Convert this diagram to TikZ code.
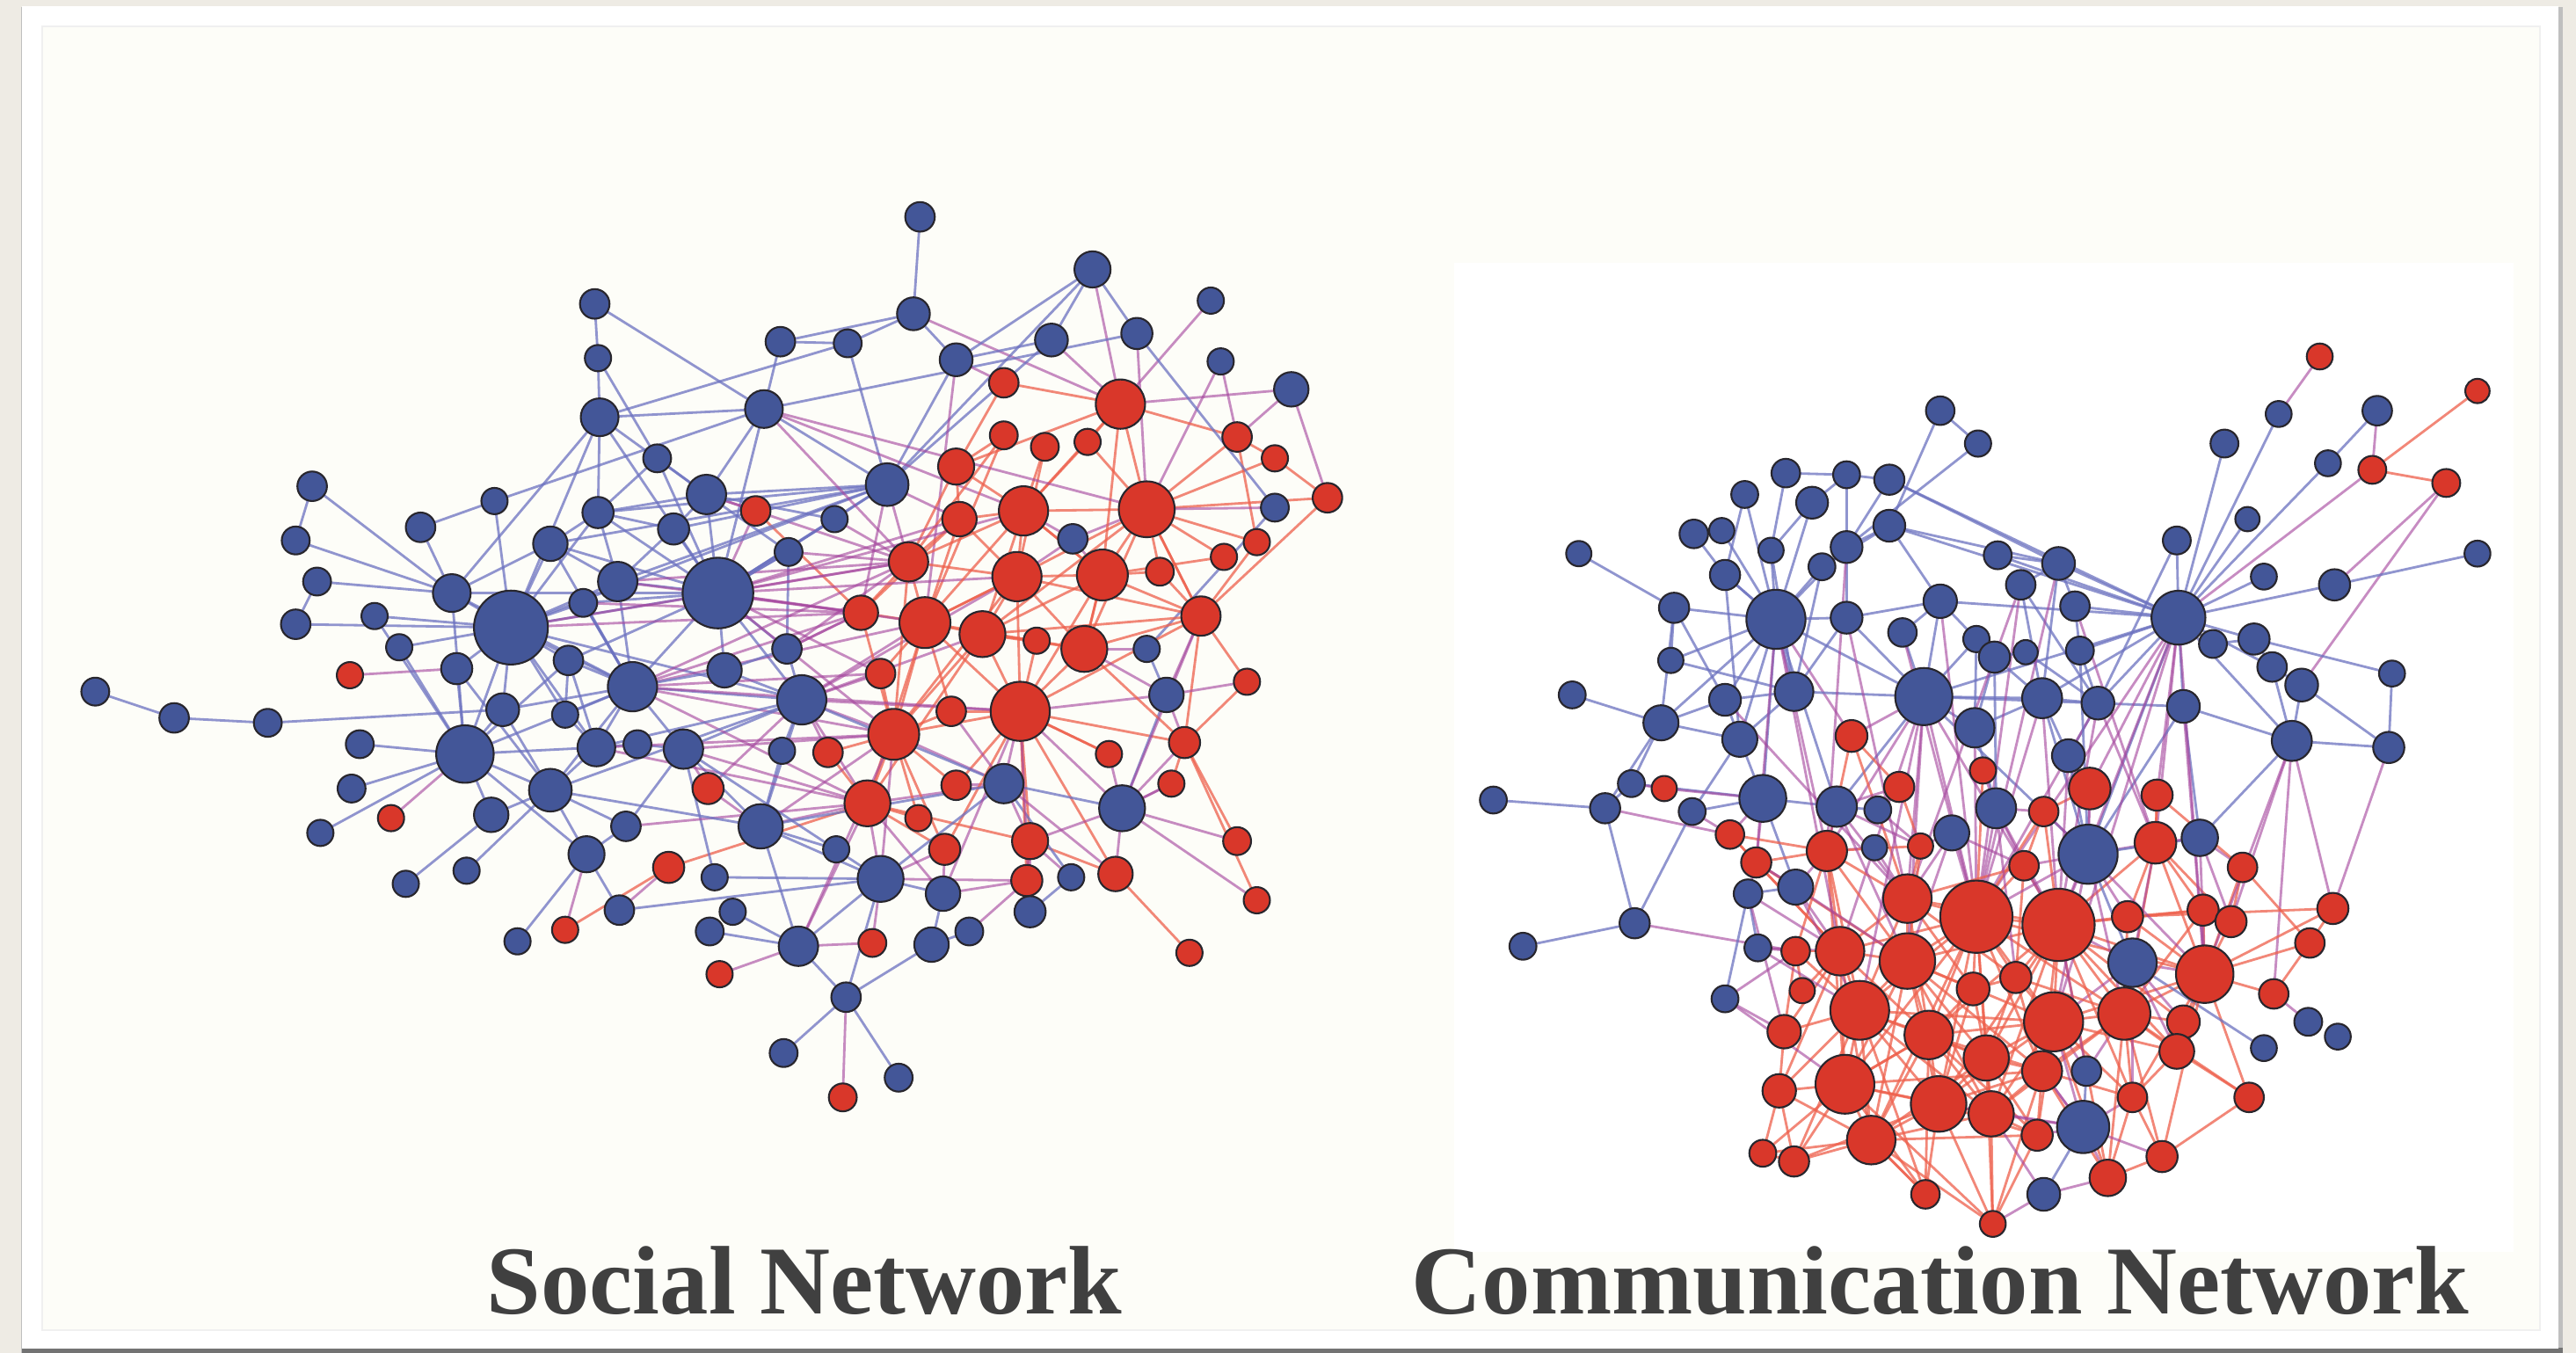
\documentclass[tikz,border=0pt]{standalone}
\usepackage{fontspec}
\newfontfamily\capfont{Liberation Serif}
\pgfdeclarelayer{bgl}
\pgfdeclarelayer{edges}
\pgfsetlayers{bgl,edges,main}
\definecolor{fillb}{RGB}{67,86,152}
\definecolor{fillr}{RGB}{217,55,42}
\definecolor{ndline}{RGB}{40,38,45}
\definecolor{eblue}{RGB}{108,114,192}
\definecolor{ered}{RGB}{238,96,76}
\definecolor{epurp}{RGB}{165,70,158}
\definecolor{paper}{RGB}{253,253,248}
\definecolor{outer}{RGB}{238,235,228}
\definecolor{txtgray}{RGB}{64,64,64}
\tikzset{
  nodebase/.style={circle, draw=ndline, line width=0.6pt, inner sep=0pt, outer sep=0pt},
  ebb/.style={draw=eblue, line width=0.8pt, draw opacity=0.75},
  err/.style={draw=ered, line width=0.8pt, draw opacity=0.75},
  ebr/.style={draw=epurp, line width=0.8pt, draw opacity=0.62},
  erb/.style={ebr},
  captext/.style={font=\capfont\bfseries\fontsize{31.5}{36}\selectfont, text=txtgray, anchor=base west, inner sep=0pt}
}
\newcommand\nd[5]{%
  \edef\tmpc{#5}\def\tmpb{b}%
  \ifx\tmpc\tmpb\def\fc{fillb}\else\def\fc{fillr}\fi
  \node[nodebase, fill=\fc, minimum size=#4*0.37372mm] (#1) at (#2,#3) {};%
  \expandafter\xdef\csname nc#1\endcsname{#5}}
\newcommand\ed[2]{%
  \edef\tmpe{\noexpand\draw[e\csname nc#1\endcsname\csname nc#2\endcsname] (#1) -- (#2);}%
  \tmpe}
\begin{document}
\begin{tikzpicture}[x=0.18686mm, y=-0.18686mm]
\useasboundingbox (0,0) rectangle (1568,823.6);
\begin{pgfonlayer}{bgl}
  \fill[outer] (0,0) rectangle (1568,823.6);
  \fill[black!25] (12.6,4.2) rectangle (1560,823.6);
  \fill[black!55] (13.4,820.6) rectangle (1560,823.6);
  \fill[white] (13.4,3.7) rectangle (1557.3,821);
  \filldraw[fill=paper, draw=black!6, line width=0.4pt] (25.7,16) rectangle (1546,809.7);
  \fill[white] (885,160) rectangle (1530,762);
\end{pgfonlayer}
% ---------------- left network nodes
\foreach \n/\x/\y/\r/\c in {
L1/560/132/9/b, L2/362/185/9/b, L3/364/218/8/b, L4/365/254/11.5/b, L5/475/208/9/b,
L6/516/209/8.5/b, L7/556/191/10/b, L8/665/164/11/b, L9/640/207/10/b, L10/692/203/9.5/b,
L11/737/183/8/b, L12/743/220/8/b, L13/582/219/10/b, L14/465/249/11.5/b, L15/611/233/9/r,
L16/682/246/15/r, L17/786/237/10.5/b, L18/753/266/9/r, L19/611/265/8.5/r, L20/636/272/8.5/r,
L21/662/269/8/r, L22/776/279/8/r, L23/582/284/11/r, L24/540/295/13/b, L25/400/279/8.5/b,
L26/430/301/12/b, L27/460/311/9/r, L28/508/316/8/b, L29/698/310/17/r, L30/623/311/15/r,
L31/584/316/10.5/r, L32/776/309/8.5/b, L33/808/303/9/r, L34/653/328/9/b, L35/765/330/8/r,
L36/745/339/8/r, L37/480/336/8.5/b, L38/553/342/12/r, L39/619/351/15/r, L40/671/350/15.5/r,
L41/706/348/8.5/r, L42/524/373/10.5/r, L43/563/379/15.5/r, L44/598/386/14/r, L45/631/390/8/r,
L46/660/395/14/r, L47/731/375/12/r, L48/698/395/8/b, L49/479/395/9/b, L50/441/408/10.5/b,
L51/190/296/9/b, L52/301/305/8/b, L53/364/312/9.5/b, L54/410/322/9.5/b, L55/256/321/9/b,
L56/335/331/10.5/b, L57/180/329/8.5/b, L58/193/354/8.5/b, L59/376/354/12/b, L60/437/361/21.5/b,
L61/275/361/11.5/b, L62/355/367/8.5/b, L63/228/375/8/b, L64/180/380/9/b, L65/311/382/22.5/b,
L66/243/394/8/b, L67/346/402/9/b, L68/278/407/9.5/b, L69/213/411/8/r, L70/385/418/15/b,
L71/58/421/8.5/b, L72/106/437/9/b, L73/163/440/8.5/b, L74/306/432/10/b, L75/344/435/8/b,
L76/219/453/8.5/b, L77/283/459/17.5/b, L78/363/455/11.5/b, L79/388/453/8.5/b, L80/416/456/12/b,
L81/214/480/8.5/b, L82/335/481/13/b, L83/431/480/9.5/r, L84/238/498/8/r, L85/299/496/10.5/b,
L86/381/503/9/b, L87/195/507/8/b, L88/357/520/11/b, L89/407/528/9.5/r, L90/435/534/8/b,
L91/284/530/8/b, L92/247/538/8/b, L93/377/554/9/b, L94/446/555/8/b, L95/344/566/8/r,
L96/315/573/8/b, L97/432/567/8.5/b, L98/438/593/8/r, L99/536/410/9/r, L100/759/415/8/r,
L101/488/426/15/b, L102/621/433/18/r, L103/579/433/9/r, L104/710/423/10.5/b, L105/544/447/15.5/r,
L106/476/457/8/b, L107/504/458/9/r, L108/675/459/8/r, L109/721/452/9.5/r, L110/611/477/12/b,
L111/582/478/9/r, L112/713/477/8/r, L113/528/489/14/r, L114/683/492/14/b, L115/463/503/13.5/b,
L116/559/498/8/r, L117/575/517/9.5/r, L118/627/512/11/r, L119/509/517/8/b, L120/753/512/8.5/r,
L121/536/535/14/b, L122/574/544/10.5/b, L123/625/536/9.5/r, L124/652/534/8/b, L125/679/532/10.5/r,
L126/765/548/8/r, L127/627/555/9.5/b, L128/531/574/8.5/r, L129/486/576/12/b, L130/567/575/10.5/b,
L131/590/567/8.5/b, L132/724/580/8/r, L133/515/607/9/b, L134/477/641/8.5/b, L135/547/656/8.5/b,
L136/513/668/8.5/r}
{\nd{\n}{\x}{\y}{\r}{\c}}
% ---------------- right network nodes
\foreach \n/\x/\y/\r/\c in {
R1/1181/250/8.7/b, R2/1204/270/8/b, R3/1087/288/8.7/b, R4/1124/289/8.2/b, R5/1150/292/9.2/b,
R6/1062/301/8.2/b, R7/1103/306/9.7/b, R8/1031/325/8.7/b, R9/1048/323/7.7/b, R10/1150/320/9.7/b,
R11/1078/335/7.7/b, R12/1124/333/9.7/b, R13/1109/345/8.2/b, R14/961/337/7.7/b, R15/1050/350/9.2/b,
R16/1019/370/9.2/b, R17/1081/377/18/b, R18/1124/376/9.7/b, R19/1181/366/10.2/b, R20/1158/385/8.7/b,
R21/1203/389/8/b, R22/1017/402/7.7/b, R23/957/423/8.2/b, R24/1050/426/9.7/b, R25/1092/421/11.8/b,
R26/1171/424/17.4/b, R27/1011/440/10.7/b, R28/1059/450/10.7/b, R29/1127/448/9.7/r, R30/1202/443/12/b,
R31/1412/217/7.9/r, R32/1508/238/7.4/r, R33/1447/250/9/b, R34/1387/252/7.9/b, R35/1354/270/8.5/b,
R36/1417/282/7.9/b, R37/1444/286/8.5/r, R38/1489/294/8.5/r, R39/1368/316/7.4/b, R40/1325/329/8.5/b,
R41/1216/338/8.5/b, R42/1508/337/7.9/b, R43/1253/343/10/b, R44/1230/356/9/b, R45/1378/351/7.9/b,
R46/1421/356/9.5/b, R47/1263/369/9/b, R48/1326/376/16.4/b, R49/1214/400/9.5/b, R50/1233/397/7.4/b,
R51/1266/396/8.5/b, R52/1347/392/8.5/b, R53/1372/389/9.5/b, R54/1383/406/9/b, R55/1401/417/10/b,
R56/1456/410/7.9/b, R57/1243/425/12.2/b, R58/1277/428/10/b, R59/1329/430/10/b, R60/1395/451/12.2/b,
R61/1454/455/9.5/b, R62/1259/460/10/b, R63/1207/469/8/r, R64/1272/480/12.7/r, R65/1313/484/9.5/r,
R66/909/487/8.2/b, R67/993/477/8.2/b, R68/1013/480/7.7/r, R69/977/492/9.2/b, R70/1030/494/8.2/b,
R71/1073/486/14.3/b, R72/1118/491/12.3/b, R73/1143/493/8.2/b, R74/1156/479/9.2/r, R75/1215/492/12.2/b,
R76/1188/507/10.7/b, R77/1053/508/8.7/r, R78/1112/518/12.3/r, R79/1141/516/7.7/b, R80/1169/515/7.7/r,
R81/1069/525/9.2/r, R82/1093/540/10.7/b, R83/1064/544/8.7/b, R84/1161/547/14.8/r, R85/1244/494/9/r,
R86/1271/520/18/b, R87/1312/513/12.7/r, R88/1339/510/11.1/b, R89/1232/527/9/r, R90/1365/528/9/r,
R91/1203/558/22/r, R92/1253/563/22/r, R93/1295/558/9.5/r, R94/1341/554/9.5/r, R95/1358/561/9.5/r,
R96/1420/553/9.5/r, R97/1406/574/9/r, R98/995/562/9.2/b, R99/927/576/8.2/b, R100/1070/577/8.2/b,
R101/1093/579/8.7/r, R102/1120/579/14.8/r, R103/1161/585/16.9/r, R104/1298/586/14.8/b, R105/1342/593/17.5/r,
R106/1227/595/9.5/r, R107/1201/602/10/r, R108/1384/605/9/r, R109/1097/603/7.7/r, R110/1050/608/8.2/b,
R111/1132/615/17.9/r, R112/1174/630/14.8/r, R113/1086/628/10.2/r, R114/1250/622/18/r, R115/1293/617/15.9/r,
R116/1329/622/10/r, R117/1405/622/8.5/b, R118/1423/631/7.9/b, R119/1378/638/7.9/b, R120/1325/640/10.6/r,
R121/1209/644/13.8/r, R122/1243/652/12.2/r, R123/1270/652/9/b, R124/1123/660/17.9/r, R125/1083/664/10.2/r,
R126/1180/672/16.9/r, R127/1298/668/9/r, R128/1369/668/9/r, R129/1212/678/13.8/r, R130/1268/686/15.9/b,
R131/1139/694/14.8/r, R132/1240/691/9.5/r, R133/1073/702/8.2/r, R134/1092/707/9.2/r, R135/1316/704/9.5/r,
R136/1283/717/11.1/r, R137/1172/727/8.7/r, R138/1244/727/10/b, R139/1213/745/7.9/r}
{\nd{\n}{\x}{\y}{\r}{\c}}
% ---------------- edges
\begin{pgfonlayer}{edges}
\foreach \a/\b in {
L1/L7, L5/L7, L6/L7, L5/L6, L5/L14, L6/L24, L7/L16, L7/L13,
L8/L13, L8/L9, L8/L10, L8/L16, L8/L24,
L9/L13, L9/L24, L9/L16, L10/L14, L10/L29, L11/L16, L12/L29, L12/L18,
L17/L18, L17/L16, L17/L33, L13/L15, L13/L24, L13/L43,
L14/L30, L14/L24, L14/L26, L14/L60, L14/L4, L2/L14, L2/L3, L3/L4, L4/L6, L3/L25, L4/L61, L4/L65, L4/L53, L4/L26,
L15/L16, L15/L23, L16/L18, L16/L29, L16/L23, L16/L21, L16/L30,
L18/L29, L18/L22, L18/L35, L22/L29, L22/L33, L33/L47, L33/L29,
L32/L29, L32/L10, L32/L48, L35/L29, L35/L47, L36/L40, L36/L29,
L23/L30, L23/L31, L23/L38, L19/L23, L19/L38, L20/L30, L20/L39, L21/L29, L21/L30, L19/L43,
L29/L30, L29/L40, L29/L41, L29/L47, L29/L46, L29/L34,
L24/L26, L24/L28, L24/L31, L24/L42, L24/L60, L24/L38,
L27/L42, L27/L26, L27/L60, L28/L60, L28/L38,
L37/L60, L37/L38, L37/L49, L30/L39, L30/L31, L30/L44, L30/L40, L30/L34,
L31/L38, L31/L42, L31/L43, L38/L42, L38/L43, L38/L39, L38/L60, L39/L40, L39/L43, L39/L44, L39/L46, L39/L34,
L40/L41, L40/L46, L40/L47, L40/L34, L41/L47, L42/L43, L42/L60, L42/L49, L43/L44, L43/L99, L43/L105, L44/L45, L44/L46, L44/L102, L45/L102,
L46/L48, L46/L102, L46/L47, L47/L109, L47/L100, L47/L104, L48/L104,
L25/L26, L25/L53, L51/L57, L51/L61, L57/L61, L58/L61, L64/L58, L64/L65, L55/L52, L55/L61, L52/L14, L52/L65, L53/L26, L53/L65, L53/L54, L56/L65, L56/L59, L56/L53, L63/L65, L66/L65, L62/L65, L62/L60, L61/L65,
L60/L59, L60/L54, L60/L26, L60/L53, L60/L25, L60/L49, L60/L50, L60/L101, L60/L70, L60/L65, L60/L56, L60/L67, L60/L31, L60/L99,
L65/L67, L65/L68, L65/L74, L65/L75, L65/L77, L65/L70, L65/L78, L65/L101, L65/L59,
L59/L54, L54/L26, L54/L24, L26/L28, L26/L37, L26/L38,
L70/L43, L70/L105, L70/L101, L70/L59, L70/L62,
L49/L50, L49/L101, L49/L42, L50/L70, L50/L101,
L71/L72, L72/L73, L73/L74, L76/L77, L81/L77, L84/L77, L87/L77, L92/L85, L91/L82, L69/L68, L68/L77, L74/L77, L74/L70, L75/L70, L77/L82, L77/L85, L77/L78, L77/L61, L77/L67,
L78/L79, L78/L70, L78/L82, L80/L79, L80/L70, L80/L115, L82/L85, L82/L88, L82/L86, L82/L70, L83/L80, L83/L101, L86/L88, L86/L80, L88/L93, L89/L95, L89/L113, L96/L88, L93/L121, L94/L129, L97/L129, L98/L129, L90/L80, L90/L121, L95/L88, L93/L89,
L67/L70, L75/L67, L61/L56,
L101/L105, L101/L113, L101/L115, L101/L99, L101/L106, L101/L107, L101/L80,
L102/L105, L102/L110, L102/L103, L102/L109, L102/L118, L102/L114, L102/L108, L102/L111,
L104/L109, L104/L114, L104/L100, L104/L102, L114/L126, L114/L120, L125/L132, L125/L114, L125/L118,
L109/L112, L109/L114, L110/L111, L110/L118, L110/L105, L110/L124, L110/L113,
L113/L105, L113/L115, L113/L116, L113/L117, L113/L121, L113/L107,
L115/L121, L115/L129, L115/L119, L115/L83, L115/L106,
L121/L122, L121/L129, L121/L133, L121/L128, L121/L117,
L122/L130, L122/L123, L122/L117, L123/L118, L123/L127, L127/L124, L129/L133, L129/L128,
L133/L134, L133/L135, L133/L136, L130/L131, L130/L133, L131/L123,
L99/L105, L103/L105, L103/L43, L105/L107, L105/L116, L105/L111, L105/L44, L108/L102, L108/L114, L112/L114, L100/L109, L120/L109, L126/L109, L124/L118,
L70/L113, L80/L113, L78/L105, L115/L105, L86/L113, L101/L43, L60/L43, L59/L38, L62/L42, L49/L38,
L60/L28, L60/L37, L60/L105, L60/L39, L60/L30,
L101/L102, L101/L44, L101/L39, L101/L110,
L105/L39, L105/L117, L105/L42, L105/L38,
L102/L39, L102/L40, L102/L43, L102/L123, L102/L125, L102/L47, L102/L117,
L43/L39, L43/L30, L43/L113, L43/L46,
L44/L40, L44/L47, L44/L113,
L46/L109, L46/L104, L46/L40,
L39/L31, L39/L47, L40/L30, L40/L16,
L29/L39, L29/L47, L29/L44,
L30/L38, L113/L118,
L110/L103, L110/L125, L110/L114,
L114/L118, L114/L112, L114/L47,
L115/L110,
L70/L38, L70/L42, L70/L99, L70/L102,
L78/L113, L78/L101, L80/L105, L80/L121, L82/L115, L82/L101,
L59/L42, L59/L24, L53/L24, L56/L24, L65/L24, L65/L38, L65/L42,
L61/L60, L4/L60, L14/L38, L14/L29,
L121/L105, L121/L123, L121/L110, L129/L113, L129/L105,
L122/L102, L122/L113, L127/L102, L127/L118,
L77/L70, L77/L88, L74/L82, L68/L82, L63/L77, L66/L77, L61/L70, L53/L59, L56/L70, L62/L70, L67/L78, L75/L78}
{\ed{\a}{\b}}
\foreach \a/\b in {
R1/R2, R1/R10, R2/R12, R3/R4, R3/R11, R4/R5, R4/R7, R4/R12, R5/R12, R5/R43, R5/R48, R6/R17, R6/R15, R7/R11, R7/R17, R8/R9, R8/R15, R9/R17, R10/R12, R10/R43, R10/R48, R10/R19, R10/R13,
R14/R16, R16/R17, R16/R24, R16/R27, R17/R18, R17/R12, R17/R11, R17/R13, R17/R15, R17/R22, R17/R25, R17/R24, R17/R27, R17/R28, R17/R26, R17/R29, R17/R71, R17/R72,
R18/R19, R18/R26, R18/R25, R19/R20, R19/R26, R19/R48, R20/R26, R22/R25, R23/R27, R27/R28, R27/R67, R27/R69, R27/R24, R24/R25, R24/R28, R25/R26, R25/R28,
R26/R30, R26/R29, R26/R57, R26/R59, R26/R48, R26/R72, R26/R86, R26/R102, R26/R84, R26/R91, R26/R78,
R28/R71, R28/R70, R29/R74, R29/R78, R29/R84, R21/R30, R21/R26, R13/R25, R12/R18, R11/R25, R15/R17, R15/R28, R22/R16, R21/R19, R30/R57, R30/R75, R30/R91,
R31/R34, R33/R36, R33/R37, R32/R37, R37/R38, R37/R48, R38/R46, R38/R55, R36/R48, R34/R48, R35/R48, R39/R48, R40/R58, R40/R48, R42/R46, R45/R48, R46/R48, R41/R48, R41/R43, R43/R44, R43/R48, R43/R47, R43/R57, R44/R58, R44/R57, R44/R91, R47/R51, R47/R48,
R48/R53, R48/R54, R48/R59, R48/R51, R48/R57, R48/R58, R48/R60, R48/R52, R48/R87, R48/R64, R48/R86, R48/R91,
R53/R56, R53/R54, R52/R53, R56/R61, R55/R60, R55/R61, R60/R61, R60/R59, R60/R96, R60/R108, R61/R96, R57/R58, R62/R58, R62/R57, R62/R64, R62/R86, R57/R49, R49/R50, R50/R58, R51/R58, R59/R86, R59/R88, R54/R55, R54/R60, R57/R92, R58/R91, R49/R30, R49/R75, R58/R87,
R66/R69, R69/R98, R69/R67, R69/R77, R98/R99, R98/R70, R98/R101, R100/R83, R110/R101, R110/R113, R71/R70, R71/R72, R71/R77, R71/R81, R71/R82, R71/R67, R71/R68, R72/R73, R72/R78, R72/R74, R72/R80, R67/R68, R70/R77, R77/R81, R81/R78, R81/R82, R82/R83, R82/R78, R82/R102, R83/R81, R83/R110, R100/R101, R100/R102,
R73/R74, R73/R80, R74/R80, R76/R84, R76/R80, R76/R91, R75/R85, R75/R89, R75/R91, R79/R84, R79/R78,
R78/R84, R78/R102, R78/R103, R84/R91, R84/R103, R84/R102, R84/R111, R84/R92,
R91/R92, R91/R103, R91/R107, R91/R106, R91/R89, R91/R121, R91/R111, R91/R114, R91/R112, R91/R85,
R92/R93, R92/R89, R92/R106, R92/R114, R92/R115, R92/R86, R92/R87, R92/R104, R92/R122, R92/R121, R92/R126,
R102/R103, R102/R111, R102/R101, R102/R109, R102/R113, R102/R124, R103/R111, R103/R112, R103/R107, R103/R126, R103/R121,
R111/R112, R111/R124, R111/R113, R111/R125, R111/R126, R111/R131, R112/R126, R112/R121, R112/R129, R112/R124,
R124/R125, R124/R131, R124/R126, R124/R133, R124/R134, R126/R129, R126/R131, R126/R137, R129/R132, R129/R139, R129/R122, R131/R134, R131/R137, R131/R133, R121/R122, R121/R114, R122/R130, R122/R114,
R114/R115, R114/R123, R114/R106, R114/R104, R115/R104, R115/R116, R115/R120, R115/R127, R116/R105, R116/R120,
R105/R93, R105/R104, R105/R108, R105/R97, R105/R94, R105/R95, R105/R115, R105/R128,
R86/R87, R86/R85, R86/R89, R86/R93, R86/R64, R86/R104, R86/R88, R87/R88, R87/R65, R87/R93, R87/R94,
R88/R90, R88/R60, R90/R97, R90/R65, R90/R95, R96/R93, R96/R97, R97/R108, R94/R95, R94/R92, R95/R60,
R108/R117, R119/R104, R128/R135, R135/R136, R135/R127, R136/R138, R138/R130, R130/R123, R130/R132, R130/R136, R130/R122, R130/R127, R139/R132, R137/R131,
R113/R125, R113/R101, R109/R101, R125/R134, R133/R134,
R63/R75, R63/R91, R64/R85, R64/R86, R65/R87, R85/R89, R89/R106, R106/R107, R107/R121, R120/R127, R127/R136, R123/R115, R128/R120,
R57/R86, R58/R92, R47/R87, R44/R84, R43/R91, R51/R86, R24/R84, R20/R91, R18/R84, R12/R78, R19/R91,
R91/R126, R91/R129, R91/R122, R91/R102, R91/R124, R91/R131, R91/R115, R91/R105,
R92/R105, R92/R116, R92/R120, R92/R129, R92/R112, R92/R103, R92/R85, R92/R127, R92/R136,
R103/R124, R103/R129, R103/R131, R103/R114, R103/R122, R103/R81, R103/R80,
R111/R129, R111/R121, R111/R134, R111/R137, R111/R101, R111/R114,
R124/R129, R124/R137, R124/R112, R124/R122, R124/R139,
R126/R121, R126/R122, R126/R114, R126/R132, R126/R139, R126/R134,
R112/R131, R112/R122, R112/R114, R112/R132, R112/R137,
R114/R129, R114/R132, R114/R127, R114/R120, R114/R105, R114/R136,
R115/R122, R115/R129, R115/R135, R115/R136, R115/R128, R115/R94,
R105/R120, R105/R127, R105/R87, R105/R90, R105/R96, R105/R135,
R121/R129, R121/R131, R121/R132, R121/R106, R121/R139,
R122/R132, R122/R136, R122/R127, R122/R139,
R102/R125, R102/R131, R102/R112, R102/R81, R102/R77, R84/R80, R84/R89, R84/R112, R84/R106, R84/R107,
R78/R111, R78/R80, R78/R77, R78/R124, R78/R101,
R131/R129, R131/R139, R131/R132, R125/R133, R125/R131,
R87/R115, R87/R104, R87/R95, R93/R115, R93/R94,
R106/R122, R106/R115, R107/R112, R107/R126,
R86/R114, R86/R115, R86/R91, R86/R105, R104/R120, R104/R116, R104/R127, R130/R114, R130/R129, R130/R126, R130/R135, R138/R139, R138/R129,
R82/R103, R82/R111, R82/R81, R72/R84, R72/R103, R76/R103, R76/R89, R75/R92, R75/R106, R17/R78, R17/R102, R17/R81, R26/R103, R26/R111, R26/R92,
R48/R92, R48/R105, R48/R114, R48/R65, R57/R91, R59/R105, R60/R105, R62/R92, R83/R102, R83/R113, R100/R111, R110/R124, R123/R92, R88/R105, R88/R95}
{\ed{\a}{\b}}
\end{pgfonlayer}
% ---------------- captions
\node[captext] (cap1) at (296,800) {Social Network};
\node[captext] (cap2) at (859,800) {Communication Network};
\end{tikzpicture}
\end{document}
